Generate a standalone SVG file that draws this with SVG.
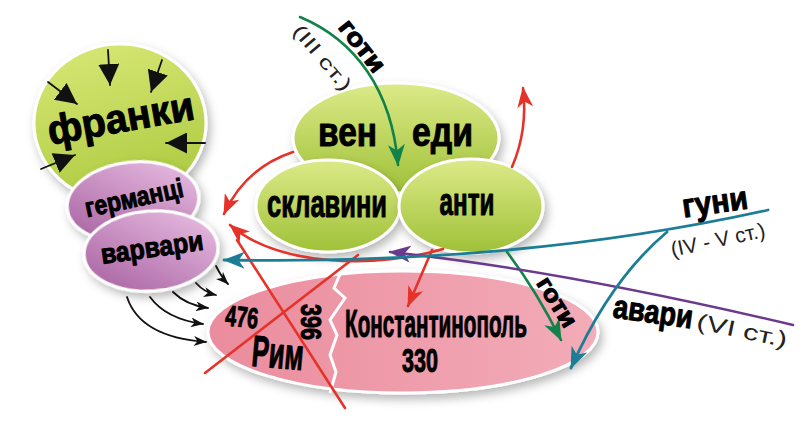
<svg xmlns="http://www.w3.org/2000/svg" width="803" height="431" viewBox="0 0 803 431">
<defs>
<style>
.t{font-family:"Liberation Sans",Arial,sans-serif;font-weight:bold;fill:#000;stroke:#000;stroke-width:1;stroke-linejoin:round}
.n{font-family:"Liberation Sans",Arial,sans-serif;font-weight:normal;fill:#222}
.node{stroke:#fff;stroke-width:3}
.c{fill:none;stroke-linecap:round}
.red{stroke:#e5332a;stroke-width:2.6}
.grn{stroke:#12824a;stroke-width:2.6}
.teal{stroke:#1b7e95;stroke-width:2.8}
.pur{stroke:#6b3a8c;stroke-width:2.6}
.blk{stroke:#111;stroke-width:1.8}
</style>
<filter id="sh" x="-20%" y="-20%" width="140%" height="150%">
<feDropShadow dx="3" dy="5" stdDeviation="5" flood-color="#000" flood-opacity="0.28"/>
</filter>
<linearGradient id="gG" x1="0" y1="0" x2="0" y2="1">
<stop offset="0" stop-color="#dcea88"/><stop offset="1" stop-color="#9fc138"/>
</linearGradient>
<linearGradient id="gF" x1="0.3" y1="0" x2="0.6" y2="1">
<stop offset="0" stop-color="#d6e673"/><stop offset="1" stop-color="#adca40"/>
</linearGradient>
<linearGradient id="gP" x1="1" y1="0" x2="0" y2="1">
<stop offset="0" stop-color="#ecc3e6"/><stop offset="1" stop-color="#a45c9d"/>
</linearGradient>
<linearGradient id="gR" x1="0" y1="0" x2="1" y2="0">
<stop offset="0" stop-color="#ea8c9d"/><stop offset="1" stop-color="#f3acb8"/>
</linearGradient>
<marker id="aR" viewBox="0 0 18 14" refX="17" refY="7" markerWidth="21" markerHeight="16" markerUnits="userSpaceOnUse" orient="auto"><path d="M18,7 L0,0 L5,7 L0,14 Z" fill="#e5332a"/></marker>
<marker id="aG" viewBox="0 0 18 14" refX="17" refY="7" markerWidth="22" markerHeight="17" markerUnits="userSpaceOnUse" orient="auto"><path d="M18,7 L0,0 L5,7 L0,14 Z" fill="#12824a"/></marker>
<marker id="aT" viewBox="0 0 18 14" refX="17" refY="7" markerWidth="22" markerHeight="17" markerUnits="userSpaceOnUse" orient="auto"><path d="M18,7 L0,0 L5,7 L0,14 Z" fill="#1b7e95"/></marker>
<marker id="aP" viewBox="0 0 18 14" refX="17" refY="7" markerWidth="22" markerHeight="17" markerUnits="userSpaceOnUse" orient="auto"><path d="M18,7 L0,0 L5,7 L0,14 Z" fill="#6b3a8c"/></marker>
<marker id="aK" viewBox="0 0 18 14" refX="17" refY="7" markerWidth="13" markerHeight="10" markerUnits="userSpaceOnUse" orient="auto"><path d="M18,7 L0,0 L5,7 L0,14 Z" fill="#111"/></marker>
<marker id="aB" viewBox="0 0 16 16" refX="16" refY="8" markerWidth="21" markerHeight="21" markerUnits="userSpaceOnUse" orient="auto"><path d="M16,8 L0,0 L0,16 Z" fill="#111"/></marker>
</defs>
<rect width="803" height="431" fill="#fff"/>

<g id="franki">
<ellipse class="node" cx="120" cy="123" rx="86" ry="79" fill="url(#gF)" filter="url(#sh)"/>
<text class="t" x="121" y="132" font-size="41" text-anchor="middle" textLength="148" lengthAdjust="spacingAndGlyphs" transform="rotate(-10 121 120)">франки</text>
</g>
<g id="hermantsi">
<ellipse class="node" cx="133" cy="202" rx="66" ry="40" transform="rotate(-6 133 202)" fill="url(#gP)" filter="url(#sh)"/>
<text class="t" x="134" y="207" font-size="27" text-anchor="middle" textLength="100" lengthAdjust="spacingAndGlyphs" transform="rotate(-12 134 198)">германці</text>
</g>
<g id="varvary">
<ellipse class="node" cx="151" cy="251" rx="67" ry="40" transform="rotate(-4 151 251)" fill="url(#gP)" filter="url(#sh)"/>
<text class="t" x="152" y="257" font-size="28" text-anchor="middle" textLength="103" lengthAdjust="spacingAndGlyphs" transform="rotate(-8 152 248)">варвари</text>
</g>
<g id="venedy">
<ellipse class="node" cx="396" cy="138" rx="103" ry="55" fill="url(#gG)" filter="url(#sh)"/>
<text class="t" x="318" y="146" font-size="40" textLength="59" lengthAdjust="spacingAndGlyphs">вен</text>
<text class="t" x="412" y="146" font-size="40" textLength="61" lengthAdjust="spacingAndGlyphs">еди</text>
</g>
<g id="sklavyny">
<ellipse class="node" cx="328" cy="206" rx="72" ry="46" fill="url(#gG)" filter="url(#sh)"/>
<text class="t" x="327" y="217" font-size="38" text-anchor="middle" textLength="120" lengthAdjust="spacingAndGlyphs">склавини</text>
</g>
<g id="anty">
<ellipse class="node" cx="471" cy="206" rx="72" ry="47" fill="url(#gG)" filter="url(#sh)"/>
<text class="t" x="467" y="215" font-size="38" text-anchor="middle" textLength="55" lengthAdjust="spacingAndGlyphs">анти</text>
</g>
<g id="rym-konstantynopol">
<ellipse class="node" cx="403" cy="332" rx="195" ry="61" fill="url(#gR)" filter="url(#sh)"/>
<polyline points="341,272 334,288 345,298 330,320 337,335 330,355 336,372 330,393" fill="none" stroke="#fff" stroke-width="3"/>
<text class="t" x="242" y="327" font-size="29" text-anchor="middle" textLength="33" lengthAdjust="spacingAndGlyphs" transform="rotate(6 242 316)">476</text>
<text class="t" x="278" y="368" font-size="44" text-anchor="middle" textLength="52" lengthAdjust="spacingAndGlyphs" transform="rotate(5 278 352)">Рим</text>
<text class="t" x="311" y="332" font-size="30" text-anchor="middle" textLength="36" lengthAdjust="spacingAndGlyphs" transform="rotate(90 311 322)">396</text>
<text class="t" x="436" y="337" font-size="38" text-anchor="middle" textLength="182" lengthAdjust="spacingAndGlyphs">Константинополь</text>
<text class="t" x="420" y="372" font-size="33" text-anchor="middle" textLength="36" lengthAdjust="spacingAndGlyphs">330</text>
</g>

<g id="connectors">
<path class="c blk" d="M108,50 L110,85" marker-end="url(#aB)"/>
<path class="c blk" d="M162,60 L151,92" marker-end="url(#aB)"/>
<path class="c blk" d="M48,82 L77,104" marker-end="url(#aB)"/>
<path class="c blk" d="M205,143 L166,143" marker-end="url(#aB)"/>
<path class="c blk" d="M41,169 L75,155" marker-end="url(#aB)"/>

<path class="c blk" d="M127,297 Q140,337 206,342" marker-end="url(#aK)"/>
<path class="c blk" d="M150,297 Q166,319 203,324" marker-end="url(#aK)"/>
<path class="c blk" d="M173,292 Q186,305 208,308" marker-end="url(#aK)"/>
<path class="c blk" d="M196,283 Q204,292 216,295" marker-end="url(#aK)"/>
<path class="c blk" d="M216,266 Q222,278 228,284" marker-end="url(#aK)"/>

<path class="c grn" d="M300,17 C355,40 392,90 398,165" marker-end="url(#aG)"/>
<path class="c grn" d="M507,252 Q536,290 561,340" marker-end="url(#aG)"/>

<path class="c red" d="M293,152 Q245,168 224,214" marker-end="url(#aR)"/>
<path class="c red" d="M512,167 Q528,130 523,88" marker-end="url(#aR)"/>
<path class="c red" d="M432,250 L408,306" marker-end="url(#aR)"/>
<path class="c red" d="M443,249 C380,268 280,268 230,225" marker-end="url(#aR)"/>
<path class="c red" d="M205,373 L358,255"/>
<path class="c red" d="M237,240 L345,408"/>

<path class="c pur" d="M793,325 Q560,270 390,252" marker-end="url(#aP)"/>
<path class="c teal" d="M768,210 Q520,265 224,260" marker-end="url(#aT)"/>
<path class="c teal" d="M667,232 Q610,280 571,368" marker-end="url(#aT)"/>
</g>

<g id="labels">
<text class="t" x="362" y="54" font-size="25" text-anchor="middle" textLength="60" lengthAdjust="spacingAndGlyphs" transform="rotate(52 362 46)">готи</text>
<text class="n" x="322" y="64" font-size="19" text-anchor="middle" textLength="80" lengthAdjust="spacingAndGlyphs" transform="rotate(50 322 58)">(III ст.)</text>
<text class="t" x="557" y="310" font-size="24" text-anchor="middle" textLength="55" lengthAdjust="spacingAndGlyphs" transform="rotate(58 557 302)">готи</text>
<text class="t" x="715" y="213" font-size="33" text-anchor="middle" textLength="66" lengthAdjust="spacingAndGlyphs" transform="rotate(-8 715 203)">гуни</text>
<text class="n" x="718" y="247" font-size="21" text-anchor="middle" textLength="96" lengthAdjust="spacingAndGlyphs" transform="rotate(-12 718 240)">(IV - V ст.)</text>
<text class="t" x="653" y="323" font-size="33" text-anchor="middle" textLength="80" lengthAdjust="spacingAndGlyphs" transform="rotate(8 653 313)">авари</text>
<text class="n" x="742" y="338" font-size="22" text-anchor="middle" textLength="92" lengthAdjust="spacingAndGlyphs" transform="rotate(12 742 331)">(VI ст.)</text>
</g>
</svg>
